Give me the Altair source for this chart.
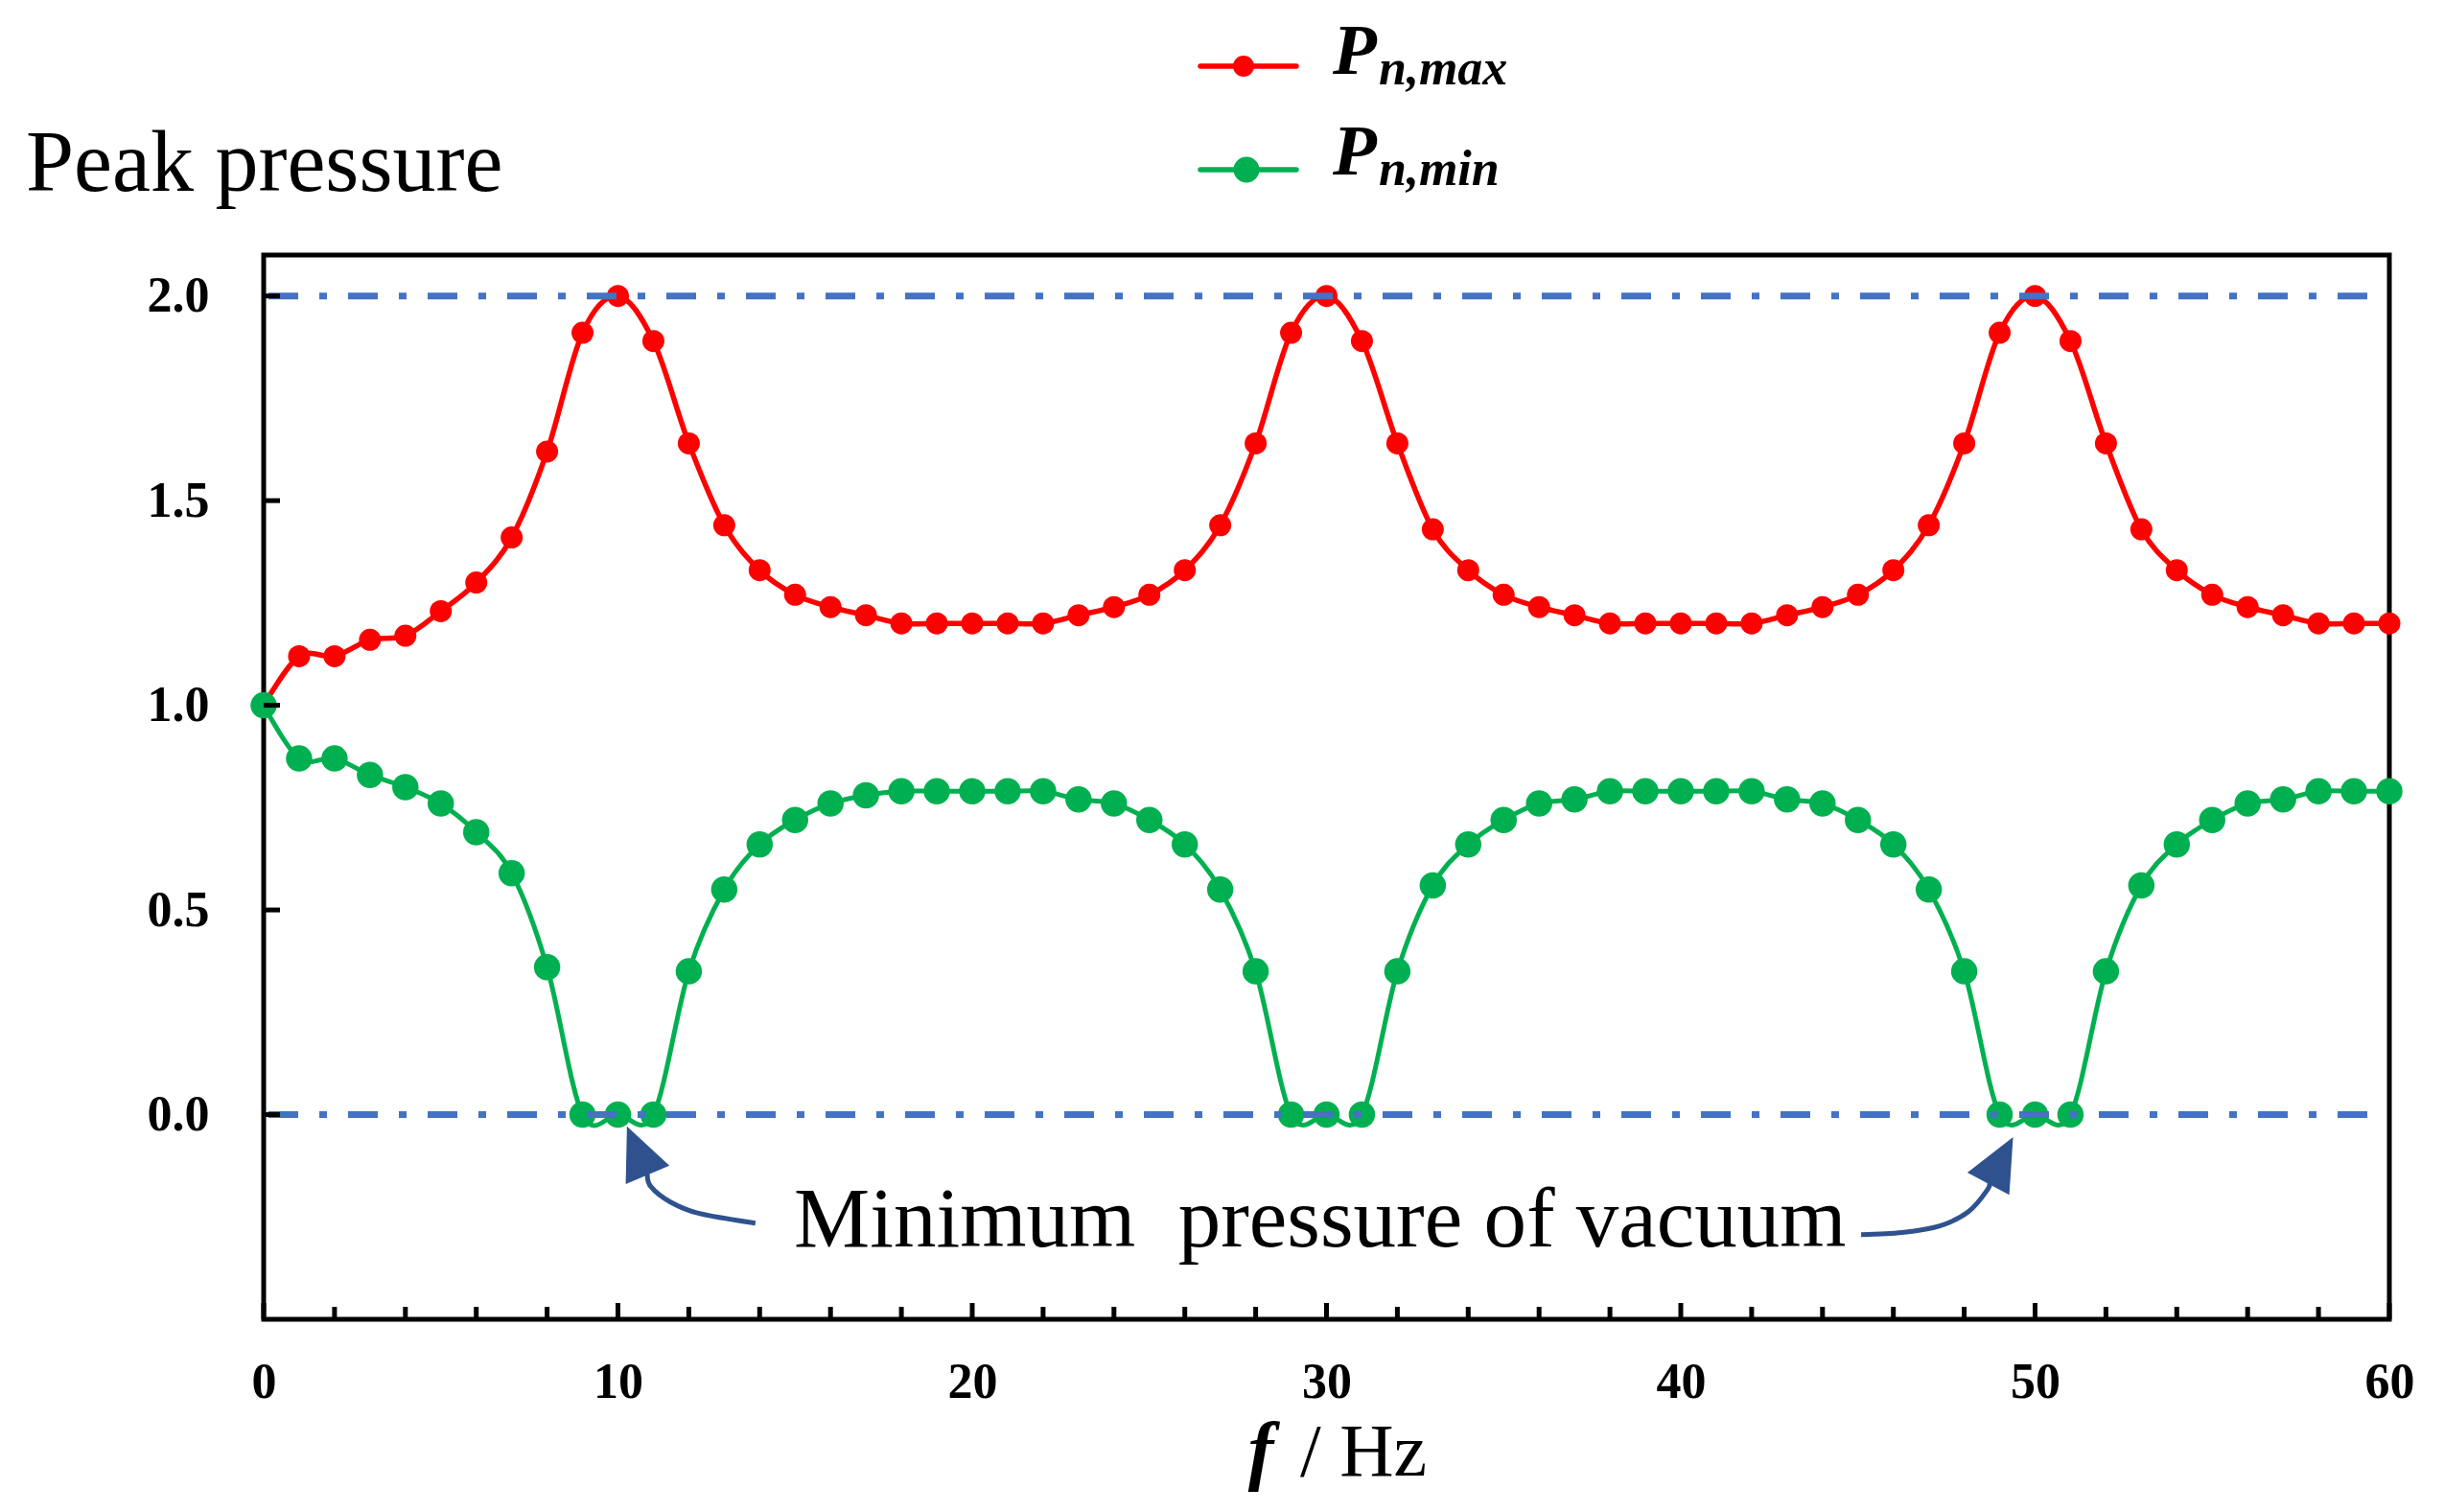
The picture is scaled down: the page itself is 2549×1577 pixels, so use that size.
import altair as alt
import pandas as pd

# ---------------- data ----------------
f_hz = list(range(61))
p_max = [1.00, 1.12, 1.12, 1.16, 1.17, 1.23, 1.30, 1.41, 1.62, 1.91, 2.00,
         1.89, 1.64, 1.44, 1.33, 1.27, 1.24, 1.22, 1.20, 1.20, 1.20,
         1.20, 1.20, 1.22, 1.24, 1.27, 1.33, 1.44, 1.64, 1.91, 2.00,
         1.89, 1.64, 1.43, 1.33, 1.27, 1.24, 1.22, 1.20, 1.20, 1.20,
         1.20, 1.20, 1.22, 1.24, 1.27, 1.33, 1.44, 1.64, 1.91, 2.00,
         1.89, 1.64, 1.43, 1.33, 1.27, 1.24, 1.22, 1.20, 1.20, 1.20]
p_min = [1.00, 0.87, 0.87, 0.83, 0.80, 0.76, 0.69, 0.59, 0.36, 0.00, 0.00,
         0.00, 0.35, 0.55, 0.66, 0.72, 0.76, 0.78, 0.79, 0.79, 0.79,
         0.79, 0.79, 0.77, 0.76, 0.72, 0.66, 0.55, 0.35, 0.00, 0.00,
         0.00, 0.35, 0.56, 0.66, 0.72, 0.76, 0.77, 0.79, 0.79, 0.79,
         0.79, 0.79, 0.77, 0.76, 0.72, 0.66, 0.55, 0.35, 0.00, 0.00,
         0.00, 0.35, 0.56, 0.66, 0.72, 0.76, 0.77, 0.79, 0.79, 0.79]

ref_levels = [0.0, 2.0]
x_label_values = [0, 10, 20, 30, 40, 50, 60]
x_minor_ticks = [v for v in range(2, 60, 2) if v % 10 != 0]
y_label_values = [0.0, 0.5, 1.0, 1.5, 2.0]

# annotation (data coordinates)
ann_x = [29.82]
ann_y = [-0.323]
ann_text = ["Minimum\u00a0 pressure of vacuum"]

left_arrow_x = [13.88, 12.27, 11.47, 10.93, 10.83]
left_arrow_y = [-0.265, -0.241, -0.213, -0.176, -0.145]
right_arrow_x = [45.09, 46.25, 47.31, 48.12, 48.66, 48.71]
right_arrow_y = [-0.293, -0.288, -0.272, -0.237, -0.183, -0.164]
head_x = [10.545, 49.03]
head_y = [-0.088, -0.112]
head_angle = [337, 28]

# ---------------- styling ----------------
SERIF = "Liberation Serif"
RED = "#FF0000"
GREEN = "#00B050"
BLUE = "#4472C4"
NAVY = "#2F528F"
W, H = 2217, 1110

df = pd.DataFrame({"f": f_hz, "pmax": p_max, "pmin": p_min})
ref_df = pd.DataFrame({"level": ref_levels})
xmaj_df = pd.DataFrame({"t": x_label_values})
xmin_df = pd.DataFrame({"t": x_minor_ticks})
ytick_df = pd.DataFrame({"t": y_label_values})
ann_df = pd.DataFrame({"x": ann_x, "y": ann_y, "txt": ann_text})
arrows_df = pd.concat([
    pd.DataFrame({"x": left_arrow_x, "y": left_arrow_y, "k": "L",
                  "o": list(range(len(left_arrow_x)))}),
    pd.DataFrame({"x": right_arrow_x, "y": right_arrow_y, "k": "R",
                  "o": list(range(len(right_arrow_x)))}),
])
heads_df = pd.DataFrame({"x": head_x, "y": head_y, "a": head_angle})
one = alt.Data(values=[{"d": 1}])

xs = alt.Scale(domain=[0, 60], nice=False, zero=False)
ys = alt.Scale(domain=[-0.5, 2.1], nice=False, zero=False)

x_axis = alt.Axis(values=x_label_values, format="d", labelFont=SERIF, labelFontSize=52,
                  labelFontWeight="bold", labelColor="black", ticks=False, domain=False,
                  grid=False, labelPadding=40, labelFlush=False, labelOverlap=False, title="")
y_axis = alt.Axis(values=y_label_values, format=".1f", labelFont=SERIF, labelFontSize=52,
                  labelFontWeight="bold", labelColor="black", ticks=False, domain=False,
                  grid=False, labelPadding=57, labelOverlap=False, title="")


def X(field):
    return alt.X(field, scale=xs, axis=x_axis)


def Y(field):
    return alt.Y(field, scale=ys, axis=y_axis)


base = alt.Chart(df)

red_line = base.mark_line(interpolate="cardinal", tension=0, color=RED, strokeWidth=5.5).encode(
    x=X("f:Q"), y=Y("pmax:Q"))
red_pts = base.mark_point(filled=True, opacity=1, size=529, color=RED, strokeWidth=0).encode(
    x=X("f:Q"), y=Y("pmax:Q"))
green_line = base.mark_line(interpolate="cardinal", tension=0, color=GREEN, strokeWidth=5).encode(
    x=X("f:Q"), y=Y("pmin:Q"))
green_pts = base.mark_point(filled=True, opacity=1, size=756, color=GREEN, strokeWidth=0).encode(
    x=X("f:Q"), y=Y("pmin:Q"))

ref_rules = alt.Chart(ref_df).mark_rule(color=BLUE, strokeWidth=7, strokeDash=[31, 22, 8, 22]).encode(
    y=Y("level:Q"), x=alt.value(5), x2=alt.value(W - 8))

xmaj_ticks = alt.Chart(xmaj_df).mark_rule(color="black", strokeWidth=5).encode(
    x=X("t:Q"), y=alt.value(H), y2=alt.value(H - 17))
xmin_ticks = alt.Chart(xmin_df).mark_rule(color="black", strokeWidth=5).encode(
    x=X("t:Q"), y=alt.value(H), y2=alt.value(H - 13))
y_ticks = alt.Chart(ytick_df).mark_rule(color="black", strokeWidth=5).encode(
    y=Y("t:Q"), x=alt.value(0), x2=alt.value(17))

arrows = alt.Chart(arrows_df).mark_line(interpolate="cardinal", tension=0, color=NAVY,
                                        strokeWidth=5).encode(
    x=X("x:Q"), y=Y("y:Q"), detail="k:N", order="o:Q")
heads = alt.Chart(heads_df).mark_point(shape="M0,-1L-0.9,1L0.9,1Z", filled=True, opacity=1,
                                       size=3025, color=NAVY, strokeWidth=0).encode(
    x=X("x:Q"), y=Y("y:Q"), angle=alt.Angle("a:Q", scale=None))
ann = alt.Chart(ann_df).mark_text(font=SERIF, fontSize=89, align="center", baseline="alphabetic",
                                  color="black").encode(
    x=X("x:Q"), y=Y("y:Q"), text="txt:N")


def txt(s, x, y, size, weight="normal", style="normal", align="left"):
    return alt.Chart(one).mark_text(text=s, font=SERIF, fontSize=size, fontWeight=weight,
                                    fontStyle=style, align=align, baseline="alphabetic",
                                    color="black").encode(x=alt.value(x), y=alt.value(y))


y_title = txt("Peak pressure", -248, -67, 90)
x_title_f = txt("f", 1040, 1273, 80, "bold", "italic", "center")
x_title_rest = txt("/ Hz", 1081, 1273, 78)

leg_red_line = alt.Chart(one).mark_rule(color=RED, strokeWidth=5.5, strokeCap="round").encode(
    x=alt.value(977), x2=alt.value(1077), y=alt.value(-197))
leg_red_dot = alt.Chart(one).mark_point(filled=True, opacity=1, size=484, color=RED,
                                        strokeWidth=0).encode(
    x=alt.value(1022), y=alt.value(-197))
leg_green_line = alt.Chart(one).mark_rule(color=GREEN, strokeWidth=5.5, strokeCap="round").encode(
    x=alt.value(977), x2=alt.value(1077), y=alt.value(-89))
leg_green_dot = alt.Chart(one).mark_point(filled=True, opacity=1, size=729, color=GREEN,
                                          strokeWidth=0).encode(
    x=alt.value(1025), y=alt.value(-89))
leg_p1 = txt("P", 1115, -189, 75, "bold", "italic")
leg_s1 = txt("n,max", 1163, -178, 52, "bold", "italic")
leg_p2 = txt("P", 1115, -84, 75, "bold", "italic")
leg_s2 = txt("n,min", 1163, -73, 52, "bold", "italic")

chart = alt.layer(
    red_line, red_pts, green_line, green_pts, ref_rules,
    xmaj_ticks, xmin_ticks, y_ticks,
    arrows, heads, ann,
    y_title, x_title_f, x_title_rest,
    leg_red_line, leg_red_dot, leg_green_line, leg_green_dot,
    leg_p1, leg_s1, leg_p2, leg_s2,
).properties(
    width=W, height=H,
    autosize=alt.AutoSizeParams(type="none"),
    padding={"left": 267, "top": 258, "right": 40, "bottom": 190},
    background="white",
).configure_view(stroke="black", strokeWidth=5)

chart.save("out.html", embed_options={"renderer": "svg", "actions": False})
